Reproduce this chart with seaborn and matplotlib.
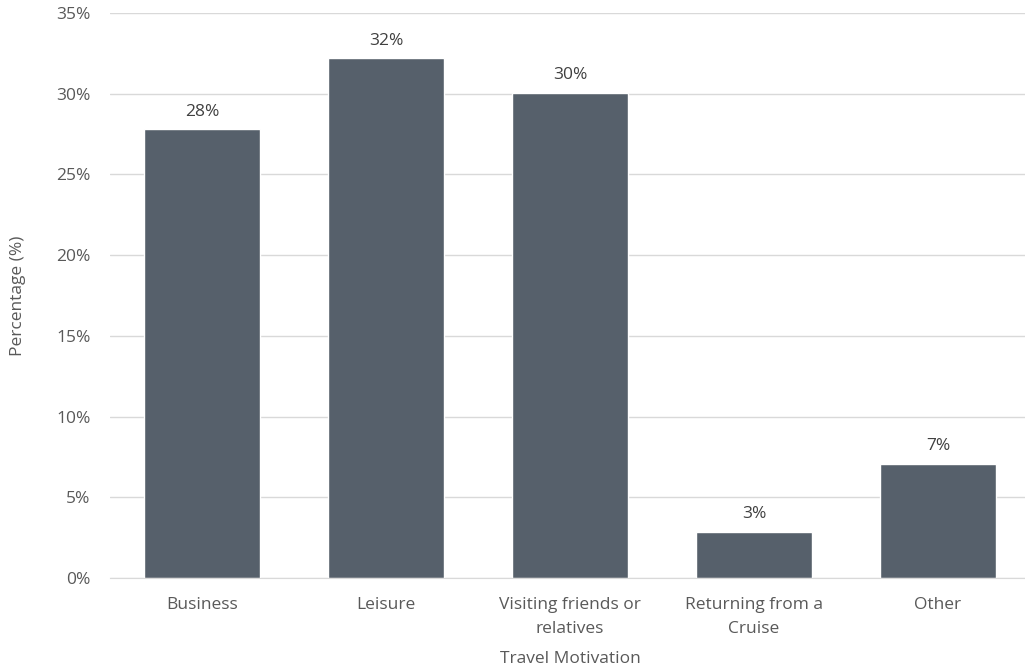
import matplotlib
matplotlib.use("Agg")
import matplotlib.pyplot as plt
import matplotlib.ticker as mticker
import pandas as pd
import seaborn as sns

categories = ["Business", "Leisure", "Visiting friends or\nrelatives",
              "Returning from a\nCruise", "Other"]
percentages = [27.8, 32.2, 30.05, 2.85, 7.06]
bar_labels = ["28%", "32%", "30%", "3%", "7%"]

df = pd.DataFrame({"motivation": categories, "pct": percentages})

sns.set_style("white")
plt.rcParams["font.family"] = ["Open Sans", "DejaVu Sans"]

text_color = "#595959"
bar_color = "#56606b"

fig = plt.figure(figsize=(10.25, 6.71), dpi=100)
ax = fig.add_axes([110 / 1025, 1 - 578 / 671, 920 / 1025, 565 / 671])

sns.barplot(data=df, x="motivation", y="pct", color=bar_color,
            width=0.63, saturation=1, ax=ax)

for i, (v, lab) in enumerate(zip(percentages, bar_labels)):
    ax.text(i, v + 0.6, lab, ha="center", va="bottom", fontsize=12.5, color="#404040")

ax.set_ylim(0, 35)
ax.set_xlim(-0.5, 4.5)
ax.yaxis.set_major_locator(mticker.MultipleLocator(5))
ax.yaxis.set_major_formatter(mticker.FuncFormatter(lambda v, p: f"{v:.0f}%"))
ax.grid(axis="y", color="#d9d9d9", linewidth=1)
ax.set_axisbelow(True)
for s in ["top", "right", "left"]:
    ax.spines[s].set_visible(False)
ax.spines["bottom"].set_color("#d9d9d9")

ax.tick_params(axis="both", length=0, labelsize=12.5, labelcolor=text_color)
ax.tick_params(axis="y", pad=14)
ax.tick_params(axis="x", pad=14)
for t in ax.get_xticklabels():
    t.set_linespacing(1.65)
ax.set_xlabel("Travel Motivation", fontsize=12.5, color=text_color, labelpad=10)
ax.set_ylabel("Percentage (%)", fontsize=12.5, color=text_color, labelpad=22)

fig.savefig("out.png", dpi=100)
